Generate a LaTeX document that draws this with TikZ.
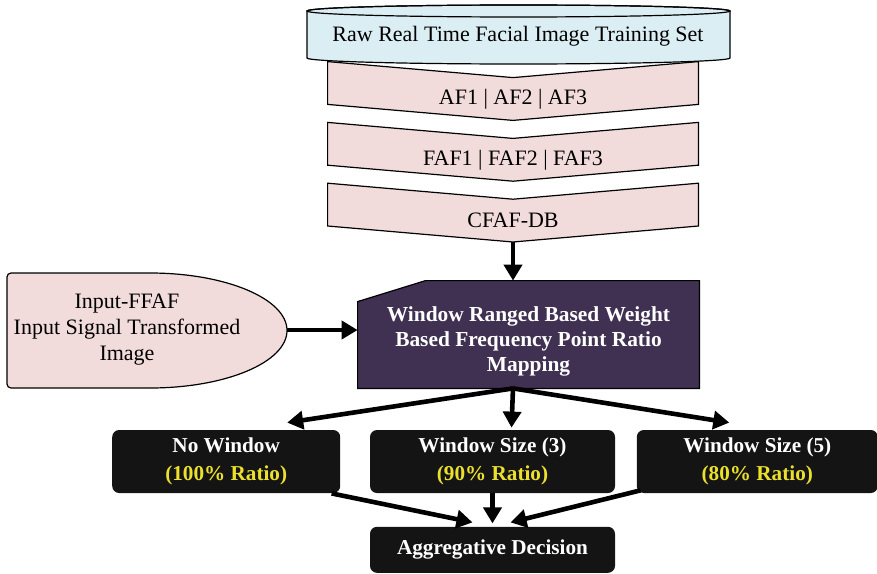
\documentclass[tikz,border=0pt]{standalone}
\usepackage{fontspec}
\setmainfont{Liberation Serif}
\usetikzlibrary{arrows.meta}
\usetikzlibrary{positioning}
\usetikzlibrary{backgrounds}

\definecolor{cylblue}{RGB}{219,238,243}
\definecolor{stagepink}{RGB}{242,220,219}
\definecolor{mappurple}{RGB}{64,49,82}
\definecolor{boxblack}{RGB}{20,20,20}
\definecolor{ratioyellow}{RGB}{236,224,45}

\begin{document}
\begin{tikzpicture}[
  x=0.5pt, y=-0.5pt,
  every node/.style={inner sep=0pt, font=\fontsize{11}{13}\selectfont},
  chevron/.style={minimum width=185pt, minimum height=21pt},
  stagefill/.style={draw=black, line width=0.6pt, fill=stagepink},
  mapbox/.style={minimum width=170.5pt, minimum height=53.5pt},
  maptext/.style={text=white, align=center, font=\fontsize{10.7}{12.5}\selectfont\bfseries},
  outbox/.style={rounded corners=3.5pt, fill=boxblack, text=white, align=center,
                 minimum height=31.5pt, font=\fontsize{10.6}{14}\selectfont\bfseries},
  flow/.style={-{Triangle[length=8pt, width=9pt]}, line width=2.3pt, black},
]
\useasboundingbox (0,0) rectangle (877,573);

%% training set and feature stages
\node (rawset) at (518,36) {Raw Real Time Facial Image Training Set};
\node (af)   [chevron] at (513,99)        {AF1 | AF2 | AF3};
\node (faf)  [chevron, below=9pt of af]   {FAF1 | FAF2 | FAF3};
\node (cfaf) [chevron, below=9pt of faf]  {CFAF-DB};

%% mapping
\node (wrbm) [mapbox] at (528.5,334.5) {};
\node (wrbmtext) [maptext] at (528.5,341.5)
  {Window Ranged Based Weight\\Based Frequency Point Ratio\\Mapping};
\node (inffaf) [align=center] at (127,330)
  {Input-FFAF\\Input Signal Transformed\\Image};
\coordinate (ffaftip) at (287,330);

%% windows
\node (win3)  [outbox, minimum width=122.5pt] at (492.5,461.5)
  {Window Size (3)\\\textcolor{ratioyellow}{(90\% Ratio)}};
\node (nowin) [outbox, minimum width=114pt, left=14.5pt of win3]
  {No Window\\\textcolor{ratioyellow}{(100\% Ratio)}};
\node (win5)  [outbox, minimum width=120.5pt, right=10.5pt of win3]
  {Window Size (5)\\\textcolor{ratioyellow}{(80\% Ratio)}};
\node (aggdec) [outbox, minimum width=122.5pt, minimum height=23pt, below=16.5pt of win3]
  {Aggregative Decision};

%% shapes behind the texts
\begin{scope}[on background layer]
  \filldraw[draw=black, line width=0.6pt, fill=cylblue]
    (307,11) -- (307,58) arc[start angle=180, end angle=360, x radius=105.75pt, y radius=3pt]
    -- (730,11) arc[start angle=0, end angle=180, x radius=105.75pt, y radius=3pt] -- cycle;
  \draw[line width=0.6pt] (518.5,11) ellipse [x radius=105.75pt, y radius=3pt];

  \filldraw[stagefill] ([yshift=8pt]af.north west) -- (af.north) -- ([yshift=8pt]af.north east)
    -- ([yshift=8pt]af.south east) -- (af.south) -- ([yshift=8pt]af.south west) -- cycle;
  \filldraw[stagefill] ([yshift=8pt]faf.north west) -- (faf.north) -- ([yshift=8pt]faf.north east)
    -- ([yshift=8pt]faf.south east) -- (faf.south) -- ([yshift=8pt]faf.south west) -- cycle;
  \filldraw[stagefill] ([yshift=8pt]cfaf.north west) -- (cfaf.north) -- ([yshift=8pt]cfaf.north east)
    -- ([yshift=8pt]cfaf.south east) -- (cfaf.south) -- ([yshift=8pt]cfaf.south west) -- cycle;

  \filldraw[draw=black, line width=0.6pt, fill=mappurple]
    ([yshift=-10.5pt]wrbm.north west) -- ([xshift=34pt]wrbm.north west) -- (wrbm.north east)
    -- (wrbm.south east) -- (wrbm.south west) -- cycle;

  \filldraw[stagefill] (150,273) [rounded corners=2pt] -- (7,273) -- (7,388) [sharp corners]
    -- (150,388) arc[start angle=270, end angle=450, x radius=68.5pt, y radius=28.75pt] -- cycle;
\end{scope}

%% connectors
\draw[flow] (cfaf.south) -- (cfaf.south |- wrbm.north);
\draw[flow] (ffaftip) -- (ffaftip -| wrbm.west);

\coordinate (fork) at (cfaf.south |- wrbm.south);
\draw[flow] (fork) -- ([xshift=30.5pt, yshift=3.5pt]nowin.north);
\draw[flow] (fork) -- ([xshift=9.5pt, yshift=1pt]win3.north);
\draw[flow] (fork) -- ([xshift=-14pt, yshift=3.5pt]win5.north);

\draw[flow] ([xshift=-4.5pt]nowin.south east) -- ([xshift=-10pt, yshift=2pt]aggdec.north);
\draw[flow] (win3.south) -- ([yshift=1.5pt]win3.south |- aggdec.north);
\draw[flow] ([xshift=2pt, yshift=1.5pt]win5.south west) -- ([xshift=9pt, yshift=2pt]aggdec.north);

\end{tikzpicture}
\end{document}
